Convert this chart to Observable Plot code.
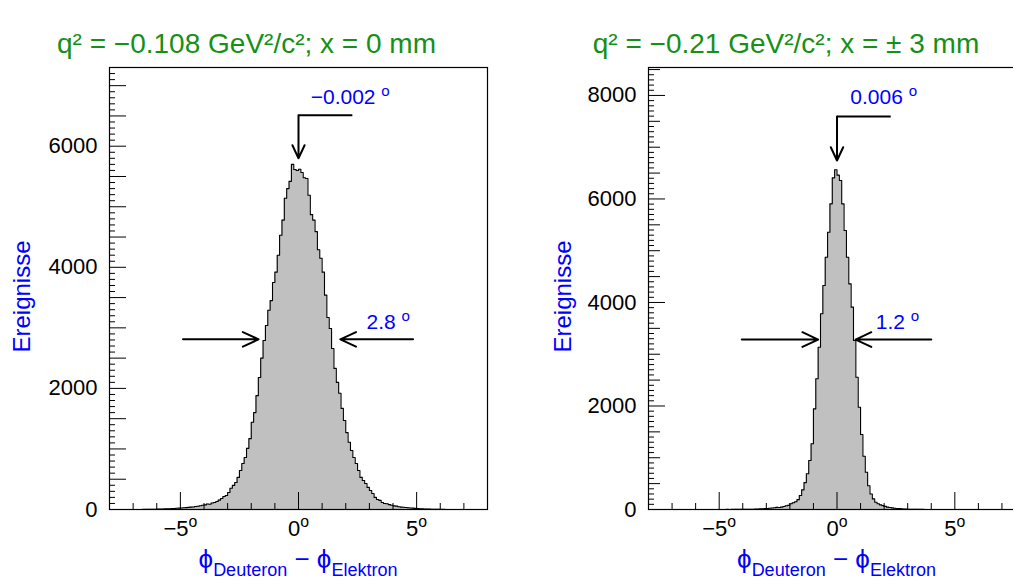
<!DOCTYPE html>
<html><head><meta charset="utf-8">
<script src="https://cdn.jsdelivr.net/npm/d3@7"></script>
<script src="https://cdn.jsdelivr.net/npm/@observablehq/plot@0.6"></script>
<style>
html,body{margin:0;padding:0;background:#fff;overflow:hidden;}
#wrap{position:relative;width:1013px;height:581px;overflow:hidden;background:#fff;}
#wrap svg{position:absolute;top:0;}
</style></head><body><div id="wrap"></div>
<script>
// ---- data (histograms: 160 bins of 0.1 deg from -8 to 8) ----
const binStart = -8;
const binWidth = 0.1;

const leftCounts = [
  0,0,0,0,0,0,0,0,0,0,
  1,0,1,1,2,2,3,3,4,5,
  6,7,8,10,11,13,15,17,20,22,
  25,28,31,35,40,42,50,54,62,70,
  76,92,86,108,116,132,155,182,215,232,
  280,350,398,445,530,645,760,860,1010,1170,
  1440,1600,1880,2180,2500,2790,3040,3290,3450,3750,
  3920,4200,4530,4780,5140,5300,5420,5700,5615,5600,
  5620,5566,5480,5466,5190,4870,4780,4590,4290,4150,
  3920,3540,3170,2990,2660,2330,2100,1920,1670,1470,
  1270,1110,975,860,760,645,530,480,430,365,
  315,265,200,165,150,115,100,95,80,70,
  60,55,45,40,38,32,28,25,22,18,
  15,12,10,8,7,6,5,4,3,3,
  2,2,1,1,1,0,0,0,0,0,
  0,0,0,0,0,0,0,0,0,0
];

const rightCounts = [
  0,0,0,0,0,0,0,0,0,0,
  0,0,0,0,0,0,0,0,0,0,
  0,0,0,0,0,0,0,1,0,1,
  1,1,1,2,1,2,2,3,2,3,
  3,4,5,5,6,8,10,12,15,18,
  20,25,30,35,42,40,45,58,72,80,
  110,130,150,190,270,380,520,690,947,1270,
  1945,2525,3136,3781,4328,4874,5357,5906,6408,6563,
  6460,6356,5906,5390,4874,4360,3910,3265,2556,1977,
  1450,1030,720,460,300,205,140,110,90,75,
  60,45,40,32,25,20,16,13,10,8,
  6,5,4,3,3,2,2,1,1,1,
  1,0,1,0,0,0,0,0,0,0,
  0,0,0,0,0,0,0,0,0,0,
  0,0,0,0,0,0,0,0,0,0,
  0,0,0,0,0,0,0,0,0,0
];

const xDomain = [-8, 8];
const leftYMax = 7300;
const rightYMax = 8540;
const xTickValues = [-5, 0, 5];
const leftYTicks = [0, 2000, 4000, 6000];
const rightYTicks = [0, 2000, 4000, 6000, 8000];

const leftTitle = "q² = −0.108 GeV²/c²; x = 0 mm";
const rightTitle = "q² = −0.21 GeV²/c²; x = ± 3 mm";
const yTitle = "Ereignisse";

// annotations (data coordinates)
const leftMean = [{x: 0, xElbow: 2.28, yTop: 6513, yTip: 5800, xLabel: 2.19, yLabel: 6810, label: "−0.002 °"}];
const leftFwhmArrows = [{x1: -4.89, x2: -1.69, y: 2810}, {x1: 4.85, x2: 1.77, y: 2810}];
const leftFwhmLabel = [{x: 3.8, y: 3090, label: "2.8 °"}];

const rightMean = [{x: 0, xElbow: 2.28, yTop: 7593, yTip: 6743, xLabel: 1.98, yLabel: 7960, label: "0.006 °"}];
const rightFwhmArrows = [{x1: -4.04, x2: -0.80, y: 3284}, {x1: 4.0, x2: 0.79, y: 3284}];
const rightFwhmLabel = [{x: 2.57, y: 3613, label: "1.2 °"}];

// ---- drawing ----
const BLUE = "#0000ff";
const GREEN = "#169016";
const FONT = "'Liberation Sans', Arial, Helvetica, sans-serif";

function degFmt(d) { return (d < 0 ? "−" : "") + Math.abs(d) + "°"; }

// render the degree sign as a raised small "o", as in the original
function raiseDegrees(svg) {
  d3.select(svg).selectAll("text").each(function () {
    const el = d3.select(this);
    if (this.querySelector("tspan")) return;
    const s = this.textContent;
    if (!s.includes("°")) return;
    const base = s.replace("°", "");
    el.text(null);
    el.append("tspan").text(base);
    el.append("tspan").attr("font-size", "0.72em").attr("dy", "-0.55em").text("o");
  });
}

function panel(cfg) {
  const {counts, ymax, yTicks, title, mean, fwhmArrows, fwhmLabel, width, marginLeft, marginRight, midLen, titleDx, yTitleDx} = cfg;
  const H = 581, mt = 67, mb = 72;
  const fw = width - marginLeft - marginRight, fh = H - mt - mb;
  const pts = counts.map((c, i) => ({x: +(binStart + i * binWidth).toFixed(2), y: c}));
  pts.push({x: +(binStart + counts.length * binWidth).toFixed(2), y: counts[counts.length - 1]});
  const minorX = d3.range(-7, 8).filter(v => v % 5 !== 0);
  const minorY = d3.range(0, ymax, 100).filter(v => v % 500 !== 0);
  const midY = d3.range(0, ymax, 500).filter(v => !yTicks.includes(v));
  const svg = Plot.plot({
    width, height: H, marginLeft, marginRight, marginTop: mt, marginBottom: mb,
    x: {domain: xDomain},
    y: {domain: [0, ymax]},
    style: {fontFamily: FONT, background: "white", color: "black", overflow: "visible"},
    marks: [
      Plot.areaY(pts, {x: "x", y: "y", curve: "step-after", fill: "#c0c0c0"}),
      Plot.lineY(pts, {x: "x", y: "y", curve: "step-after", stroke: "#000", strokeWidth: 1.1}),
      Plot.tickX(minorX, {x: d => d, insetTop: fh - 6, stroke: "#000"}),
      Plot.tickX(xTickValues, {x: d => d, insetTop: fh - 17, stroke: "#000"}),
      Plot.tickY(minorY, {y: d => d, insetRight: fw - 6, stroke: "#000"}),
      Plot.tickY(midY, {y: d => d, insetRight: fw - midLen, stroke: "#000"}),
      Plot.tickY(yTicks, {y: d => d, insetRight: fw - 17, stroke: "#000"}),
      Plot.frame({stroke: "#000", strokeWidth: 1.2}),
      Plot.axisX({ticks: xTickValues, tickSize: 0, tickPadding: 11, fontSize: 22, tickFormat: degFmt, label: null}),
      Plot.axisY({ticks: yTicks, tickSize: 0, tickPadding: 12, fontSize: 22, tickFormat: d => String(d), label: null}),
      Plot.text([title], {frameAnchor: "top", dx: titleDx, dy: -34, fill: GREEN, fontSize: 28}),
      Plot.text([yTitle], {frameAnchor: "left", textAnchor: "middle", dx: yTitleDx, dy: 8, rotate: -90, fill: BLUE, fontSize: 24}),
      // mean marker
      Plot.link(mean, {x1: "xElbow", y1: "yTop", x2: "x", y2: "yTop", stroke: "#000", strokeWidth: 2}),
      Plot.arrow(mean, {x1: "x", y1: "yTop", x2: "x", y2: "yTip", stroke: "#000", strokeWidth: 2, headLength: 13, headAngle: 50}),
      Plot.text(mean, {x: "xLabel", y: "yLabel", text: "label", fill: BLUE, fontSize: 21}),
      // FWHM arrows
      Plot.arrow(fwhmArrows, {x1: "x1", y1: "y", x2: "x2", y2: "y", stroke: "#000", strokeWidth: 2, headLength: 13, headAngle: 50}),
      Plot.text(fwhmLabel, {x: "x", y: "y", text: "label", fill: BLUE, fontSize: 21})
    ]
  });
  raiseDegrees(svg);
  // x-axis title with subscripts
  const xs = svg.scale("x");
  const t = d3.select(svg).append("text")
    .attr("x", xs.apply(0)).attr("y", 568)
    .attr("text-anchor", "middle").attr("fill", BLUE)
    .attr("font-family", FONT).attr("font-size", 26);
  t.append("tspan").text("ϕ");
  t.append("tspan").attr("font-size", 18).attr("dy", 8).text("Deuteron");
  t.append("tspan").attr("dy", -8).text(" − ϕ");
  t.append("tspan").attr("font-size", 18).attr("dy", 8).text("Elektron");
  return svg;
}

const wrap = document.getElementById("wrap");
const left = panel({counts: leftCounts, ymax: leftYMax, yTicks: leftYTicks, title: leftTitle,
  mean: leftMean, fwhmArrows: leftFwhmArrows, fwhmLabel: leftFwhmLabel,
  width: 506, marginLeft: 109, marginRight: 19, midLen: 17, titleDx: -52, yTitleDx: -87});
left.style.left = "0px";
wrap.appendChild(left);

const right = panel({counts: rightCounts, ymax: rightYMax, yTicks: rightYTicks, title: rightTitle,
  mean: rightMean, fwhmArrows: rightFwhmArrows, fwhmLabel: rightFwhmLabel,
  width: 500, marginLeft: 108, marginRight: 15, midLen: 12, titleDx: -51, yTitleDx: -85});
right.style.left = "540px";
wrap.appendChild(right);
</script>
</body></html>
